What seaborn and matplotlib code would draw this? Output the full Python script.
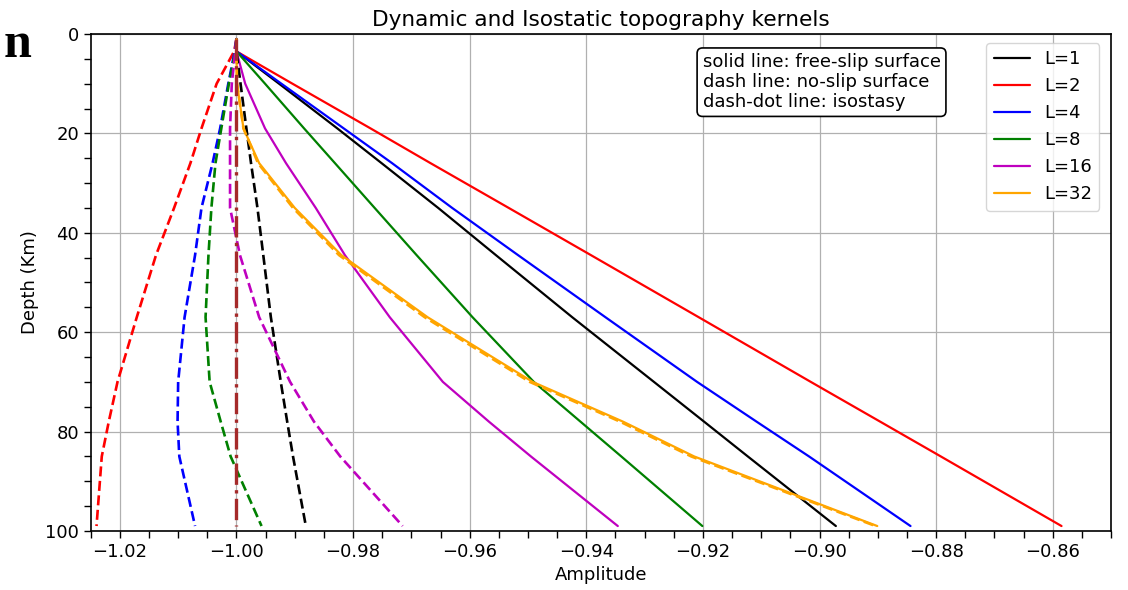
import numpy as np
import pandas as pd
import matplotlib
matplotlib.use("Agg")
import matplotlib.pyplot as plt
import seaborn as sns

# Depth samples (km)
depth = [1, 3.5, 10, 19, 26, 35, 44.5, 57, 70, 78, 85, 99]

labels = ["L=1", "L=2", "L=4", "L=8", "L=16", "L=32"]
colors = ["black", "red", "blue", "green", "m", "orange"]

# free-slip surface (solid)
free_L1 = [-1.0, -1.0, -0.9927, -0.9827, -0.9751, -0.9654, -0.9555, -0.9424, -0.9284, -0.9198, -0.9123, -0.8972]
free_L2 = [-1.0, -1.0, -0.9904, -0.9770, -0.9667, -0.9533, -0.9392, -0.9207, -0.9015, -0.8896, -0.8792, -0.8585]
free_L4 = [-1.0, -1.0, -0.9923, -0.9816, -0.9733, -0.9630, -0.9517, -0.9367, -0.9210, -0.9108, -0.9018, -0.8844]
free_L8 = [-1.0, -1.0, -0.9951, -0.9884, -0.9831, -0.9763, -0.9691, -0.9595, -0.9490, -0.9410, -0.9340, -0.9201]
free_L16 = [-1.0, -1.0, -0.9985, -0.9951, -0.9915, -0.9864, -0.9814, -0.9737, -0.9646, -0.9567, -0.9495, -0.9346]
free_L32 = [-1.0, -1.0, -0.9999, -0.9988, -0.9961, -0.9900, -0.9820, -0.9672, -0.9492, -0.9337, -0.9215, -0.8901]

# no-slip surface (dashed)
noslip_L1 = [-1.0, -1.0, -0.9993, -0.9983, -0.9975, -0.9964, -0.9954, -0.9941, -0.9924, -0.9913, -0.9903, -0.9881]
noslip_L2 = [-1.0, -1.0004, -1.0034, -1.0060, -1.0079, -1.0107, -1.0138, -1.0171, -1.0204, -1.0219, -1.0231, -1.0240]
noslip_L4 = [-1.0, -1.0003, -1.0014, -1.0028, -1.0041, -1.0060, -1.0071, -1.0089, -1.0100, -1.0101, -1.0098, -1.0071]
noslip_L8 = [-1.0, -1.0002, -1.0013, -1.0026, -1.0036, -1.0043, -1.0048, -1.0053, -1.0046, -1.0027, -1.0010, -0.9957]
noslip_L16 = [-1.0, -1.0002, -1.0008, -1.0011, -1.0011, -1.0011, -0.9994, -0.9961, -0.9908, -0.9867, -0.9822, -0.9715]
noslip_L32 = [-1.0, -1.0, -0.9999, -0.9988, -0.9963, -0.9903, -0.9824, -0.9677, -0.9497, -0.9342, -0.9220, -0.8904]

# isostasy (dash-dot)
isostasy = [-1.0] * len(depth)

free = [free_L1, free_L2, free_L4, free_L8, free_L16, free_L32]
noslip = [noslip_L1, noslip_L2, noslip_L4, noslip_L8, noslip_L16, noslip_L32]

sns.set_style("ticks")
plt.rcParams['font.family'] = ['DejaVu Sans']
plt.rcParams['text.color'] = 'black'
plt.rcParams['axes.labelcolor'] = 'black'
plt.rcParams['xtick.color'] = 'black'
plt.rcParams['ytick.color'] = 'black'

fig = plt.figure(figsize=(11.28, 5.90), dpi=100)
ax = fig.add_axes([0.0804, 0.100, 0.9046, 0.8424])

for lab, col, vals in zip(labels, colors, free):
    sns.lineplot(x=vals, y=depth, sort=False, estimator=None, color=col,
                 lw=1.6, label=lab, ax=ax)
for col, vals in zip(colors, noslip):
    sns.lineplot(x=vals, y=depth, sort=False, estimator=None, color=col,
                 lw=1.9, ax=ax, legend=False)
    ax.lines[-1].set_linestyle((0, (3.8, 1.7)))
sns.lineplot(x=isostasy, y=depth, sort=False, estimator=None, color="brown",
             lw=2.4, ax=ax, legend=False)
ax.lines[-1].set_linestyle("-.")

ax.set_xlim(-1.025, -0.85)
ax.set_ylim(100, 0)
ax.set_xticks(np.arange(-1.02, -0.859, 0.02))
ax.set_xticks(np.arange(-1.025, -0.849, 0.005), minor=True)
ax.set_yticks(np.arange(0, 101, 20))
ax.set_yticks(np.arange(0, 101, 5), minor=True)
ax.grid(True, which="major", color="#b0b0b0", lw=0.9)
ax.tick_params(which="both", direction="out", length=5, width=1.0, labelsize=13,
               colors="black")
for s in ax.spines.values():
    s.set_linewidth(1.2)
    s.set_color("black")

ax.set_xlabel("Amplitude", fontsize=13)
ax.set_ylabel("Depth (Km)", fontsize=13)
ax.set_title("Dynamic and Isostatic topography kernels", fontsize=15.6)

ax.legend(loc="upper right", fontsize=13, bbox_to_anchor=(0.9885, 0.982),
          borderaxespad=0.0)
ax.text(0.5996, 0.961,
        "solid line: free-slip surface\ndash line: no-slip surface\ndash-dot line: isostasy",
        transform=ax.transAxes, ha="left", va="top", fontsize=13, linespacing=1.13,
        bbox=dict(boxstyle="round,pad=0.3", facecolor="white", edgecolor="black", lw=1.2))

fig.text(0.003, 0.903, "n", family=["Liberation Serif"], fontweight="bold",
         fontsize=36, ha="left", va="baseline")

fig.savefig("out.png", dpi=100)
